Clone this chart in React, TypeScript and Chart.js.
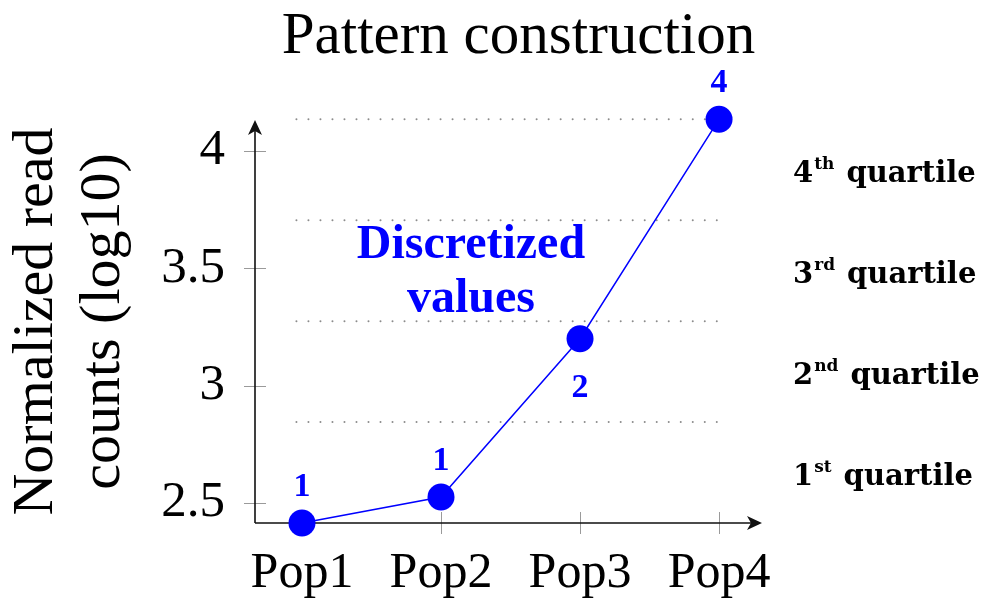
import React, { useEffect, useRef } from 'react';
import { Chart, registerables } from 'chart.js';

Chart.register(...registerables);

// ---- data ----
const categories = ['Pop1', 'Pop2', 'Pop3', 'Pop4'];
const categoryPositions = [1, 2, 3, 4];
const readCounts = [2.415, 2.526, 3.2, 4.135];
const discretizedValues = ['1', '1', '2', '4'];
const discretizedSide = ['above', 'above', 'below', 'above'];
const quartileBounds = [2.845, 3.275, 3.705, 4.135];
const quartileNumbers = ['1', '2', '3', '4'];
const quartileSuffixes = ['st', 'nd', 'rd', 'th'];
const yTickValues = [2.5, 3, 3.5, 4];
const yTickLabels = ['2.5', '3', '3.5', '4'];
const titleText = 'Pattern construction';
const yAxisTitle = ['Normalized read', 'counts (log10)'];
const annotationLines = ['Discretized', 'values'];

// ---- axis ranges & annotation anchors (data space) ----
const X_MIN = 0.662;
const X_MAX = 4.309;
const Y_MIN = 2.415;
const Y_MAX = 4.132;
const DOT_START = 0.96;
const DOT_END = 4.0;
const ANNOT_X = 2.215;
const ANNOT_Y = [3.545, 3.315];

const SERIF = "'Liberation Serif', 'Times New Roman', serif";
const BLUE = '#0000ff';

const decorPlugin = {
  id: 'decor',
  beforeDatasetsDraw(chart: any) {
    const { ctx, chartArea } = chart;
    const xs = chart.scales.x;
    const ys = chart.scales.y;
    const left = chartArea.left;
    const bottom = chartArea.bottom;
    const top = chartArea.top;
    const right = chartArea.right;
    ctx.save();
    // tick marks (gray, crossing the axes)
    ctx.strokeStyle = '#9a9a9a';
    ctx.lineWidth = 1;
    yTickValues.forEach((v) => {
      const py = Math.round(ys.getPixelForValue(v)) + 0.5;
      ctx.beginPath();
      ctx.moveTo(left - 11, py);
      ctx.lineTo(left + 11, py);
      ctx.stroke();
    });
    categoryPositions.forEach((v) => {
      const px = Math.round(xs.getPixelForValue(v)) + 0.5;
      ctx.beginPath();
      ctx.moveTo(px, bottom - 11);
      ctx.lineTo(px, bottom + 11);
      ctx.stroke();
    });
    // axes
    ctx.strokeStyle = '#111';
    ctx.fillStyle = '#111';
    ctx.lineWidth = 1.6;
    ctx.beginPath();
    ctx.moveTo(left, bottom);
    ctx.lineTo(left, top + 6);
    ctx.moveTo(left, bottom);
    ctx.lineTo(right - 6, bottom);
    ctx.stroke();
    // arrow heads
    ctx.beginPath();
    ctx.moveTo(left, top);
    ctx.lineTo(left - 7, top + 15);
    ctx.lineTo(left, top + 11);
    ctx.lineTo(left + 7, top + 15);
    ctx.closePath();
    ctx.fill();
    ctx.beginPath();
    ctx.moveTo(right, bottom);
    ctx.lineTo(right - 15, bottom - 7);
    ctx.lineTo(right - 11, bottom);
    ctx.lineTo(right - 15, bottom + 7);
    ctx.closePath();
    ctx.fill();
    ctx.restore();
  },
  afterDatasetsDraw(chart: any) {
    const { ctx, chartArea } = chart;
    const xs = chart.scales.x;
    const ys = chart.scales.y;
    ctx.save();
    // title
    ctx.fillStyle = '#000';
    ctx.font = `59px ${SERIF}`;
    ctx.textAlign = 'center';
    ctx.textBaseline = 'alphabetic';
    ctx.fillText(titleText, (xs.getPixelForValue(X_MIN) + xs.getPixelForValue(X_MAX)) / 2 + 10, 53);

    // point labels
    ctx.fillStyle = BLUE;
    ctx.font = `bold 34px ${SERIF}`;
    categoryPositions.forEach((v, i) => {
      const px = xs.getPixelForValue(v);
      const py = ys.getPixelForValue(readCounts[i]);
      const by = discretizedSide[i] === 'above' ? py - 27 : py + 58;
      ctx.fillText(discretizedValues[i], px, by);
    });

    // annotation
    ctx.font = `bold 48px ${SERIF}`;
    annotationLines.forEach((t, i) => {
      ctx.fillText(t, xs.getPixelForValue(ANNOT_X), ys.getPixelForValue(ANNOT_Y[i]));
    });

    // quartile labels
    ctx.fillStyle = '#000';
    ctx.textAlign = 'left';
    const lx = chartArea.right + 31;
    const bounds = [Y_MIN, ...quartileBounds];
    quartileNumbers.forEach((n, i) => {
      const mid = (ys.getPixelForValue(bounds[i]) + ys.getPixelForValue(bounds[i + 1])) / 2;
      const base = mid + 12;
      let x = lx;
      ctx.font = `bold 29px 'DejaVu Serif', serif`;
      ctx.fillText(n, x, base);
      x += ctx.measureText(n).width + 1;
      ctx.font = `bold 17px 'DejaVu Serif', serif`;
      ctx.fillText(quartileSuffixes[i], x, base - 13);
      x += ctx.measureText(quartileSuffixes[i]).width;
      ctx.font = `bold 29px 'DejaVu Serif', serif`;
      x += 12;
      ctx.fillText('quartile', x, base);
    });
    ctx.restore();
  },
};

export default function App() {
  const canvasRef = useRef<HTMLCanvasElement | null>(null);

  useEffect(() => {
    document.body.style.margin = '0';
    const canvas = canvasRef.current;
    if (!canvas) return;
    const chart = new Chart(canvas, {
      type: 'line',
      data: {
        datasets: [
          {
            data: categoryPositions.map((x, i) => ({ x, y: readCounts[i] })),
            borderColor: BLUE,
            backgroundColor: BLUE,
            borderWidth: 1.5,
            pointRadius: 13.5,
            pointBackgroundColor: BLUE,
            pointBorderWidth: 0,
            clip: false,
            order: 0,
          } as any,
          ...quartileBounds.map((q) => ({
            data: [
              { x: DOT_START, y: q },
              { x: DOT_END, y: q },
            ],
            borderColor: '#8c8c8c',
            borderWidth: 2,
            borderDash: [0.01, 12],
            borderCapStyle: 'round',
            pointRadius: 0,
            clip: false,
            order: 1,
          } as any)),
        ],
      },
      options: {
        animation: false,
        responsive: false,
        events: [],
        layout: { padding: { top: 120, left: 0, right: 227, bottom: 0 } },
        plugins: {
          legend: { display: false },
          tooltip: { enabled: false },
          title: { display: false },
        },
        scales: {
          x: {
            type: 'linear',
            min: X_MIN,
            max: X_MAX,
            grid: { display: false, drawTicks: false },
            border: { display: false },
            afterBuildTicks: (s: any) => {
              s.ticks = categoryPositions.map((v) => ({ value: v }));
            },
            afterFit: (s: any) => {
              s.height = 76;
            },
            ticks: {
              padding: 21,
              color: '#000',
              autoSkip: false,
              maxRotation: 0,
              font: { family: SERIF, size: 50, lineHeight: 1.2 },
              callback: (v: any) => {
                const i = categoryPositions.indexOf(Number(v));
                return i >= 0 ? categories[i] : '';
              },
            },
          },
          y: {
            type: 'linear',
            min: Y_MIN,
            max: Y_MAX,
            grid: { display: false, drawTicks: false },
            border: { display: false },
            afterBuildTicks: (s: any) => {
              s.ticks = yTickValues.map((v) => ({ value: v }));
            },
            afterFit: (s: any) => {
              s.width = 255;
            },
            ticks: {
              padding: 30,
              color: '#000',
              autoSkip: false,
              font: { family: SERIF, size: 51, lineHeight: 1.2 },
              callback: (v: any) => {
                const i = yTickValues.indexOf(Number(v));
                return i >= 0 ? yTickLabels[i] : '';
              },
            },
            title: {
              display: true,
              text: yAxisTitle,
              color: '#000',
              font: { family: SERIF, size: 58, lineHeight: 1.155 },
              padding: { top: 3.5, bottom: 0 },
            },
          },
        },
      } as any,
      plugins: [decorPlugin],
    });
    return () => chart.destroy();
  }, []);

  return (
    <div style={{ width: 989, height: 599, background: '#fff' }}>
      <canvas ref={canvasRef} width={989} height={599} style={{ display: 'block' }} />
    </div>
  );
}
